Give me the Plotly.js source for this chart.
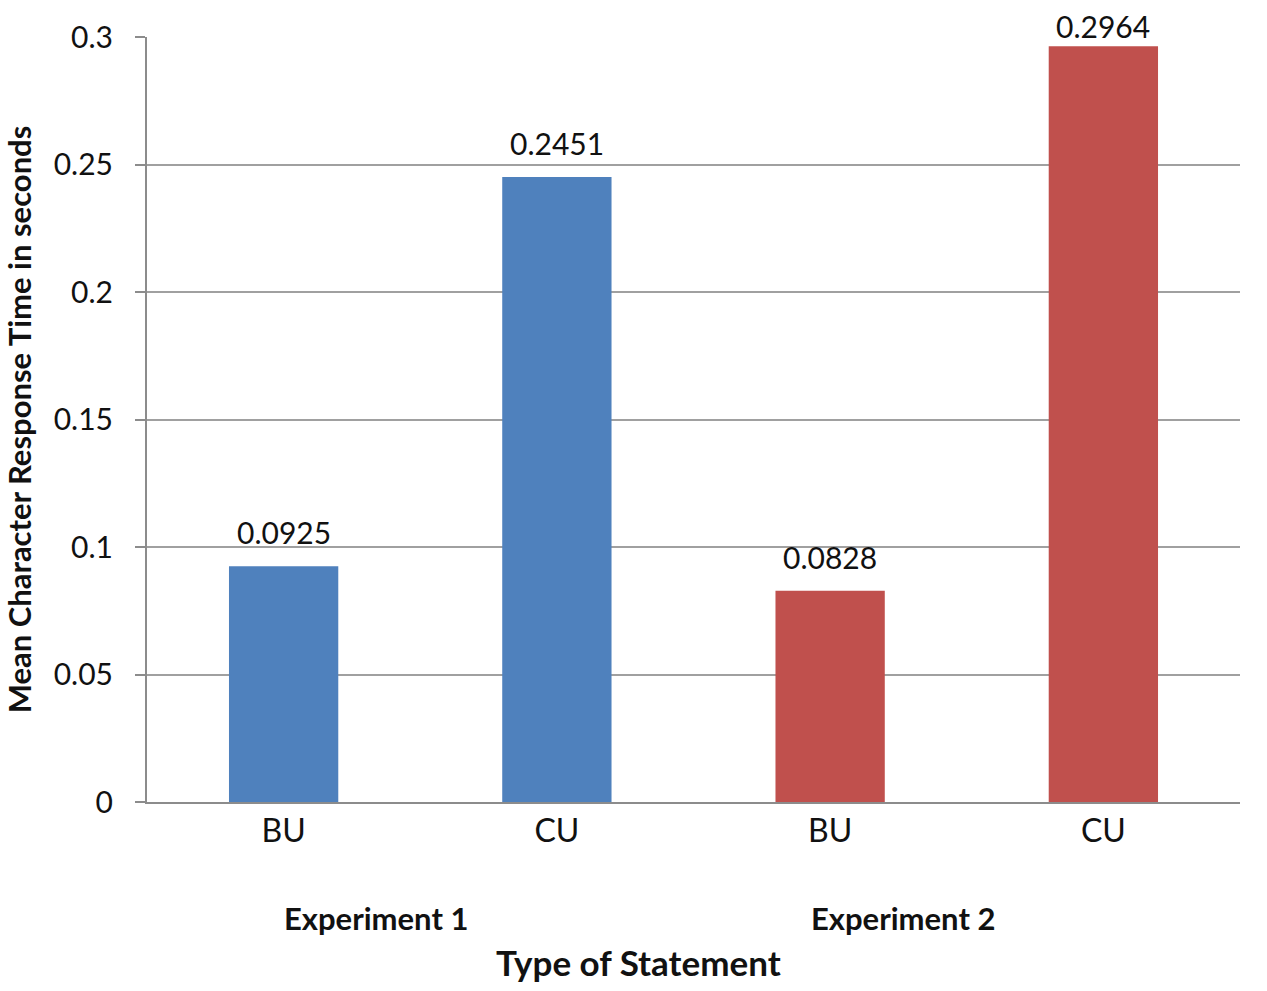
<!DOCTYPE html>
<html>
<head>
<meta charset="utf-8">
<script src="https://cdn.plot.ly/plotly-3.0.1.min.js"></script>
<style>
  html, body { margin: 0; padding: 0; background: #fff; }
  #chart { width: 1267px; height: 991px; }
</style>
</head>
<body>
<div id="chart"></div>
<script>
// statement types, one per bar
var statementTypes = ['BU', 'CU', 'BU', 'CU'];
var experiments = ['Experiment 1', 'Experiment 1', 'Experiment 2', 'Experiment 2'];
var meanResponse = [0.0925, 0.2451, 0.0828, 0.2964];
var valueLabels = ['0.0925', '0.2451', '0.0828', '0.2964'];
var yTicks = [0, 0.05, 0.1, 0.15, 0.2, 0.25, 0.3];
var yTickText = ['0', '0.05', '0.1', '0.15', '0.2', '0.25', '0.3'];

var expColors = { 'Experiment 1': '#4f81bd', 'Experiment 2': '#c0504d' };
var barIdx = statementTypes.map(function(_, i) { return i; });

var font = 'Lato, "Open Sans", sans-serif';

var trace = {
  type: 'bar',
  x: barIdx,
  y: meanResponse,
  width: 0.4,
  marker: { color: experiments.map(function(e) { return expColors[e]; }) },
  hoverinfo: 'y'
};

var annos = barIdx.map(function(i) {
  return {
    x: i, y: meanResponse[i], xref: 'x', yref: 'y',
    text: valueLabels[i], showarrow: false,
    yanchor: 'middle', yshift: meanResponse[i] > 0.28 ? 20 : 34,
    font: { family: font, size: 30, color: '#111' }
  };
});

annos.push(
  { x: 0.2095, y: -0.152, xref: 'paper', yref: 'paper', text: '<b>Experiment 1</b>',
    xanchor: 'center', yanchor: 'middle',
    showarrow: false, font: { family: font, size: 31, color: '#111' } },
  { x: 0.692, y: -0.152, xref: 'paper', yref: 'paper', text: '<b>Experiment 2</b>',
    xanchor: 'center', yanchor: 'middle',
    showarrow: false, font: { family: font, size: 31, color: '#111' } },
  { x: 0.450, y: -0.209, xref: 'paper', yref: 'paper', text: '<b>Type of Statement</b>',
    xanchor: 'center', yanchor: 'middle',
    showarrow: false, font: { family: font, size: 35, color: '#111' } }
);

var layout = {
  width: 1267,
  height: 991,
  margin: { l: 147, r: 27, t: 37, b: 189 },
  paper_bgcolor: '#fff',
  plot_bgcolor: '#fff',
  showlegend: false,
  font: { family: font, size: 30, color: '#111' },
  xaxis: {
    range: [-0.5, 3.5],
    tickvals: barIdx,
    ticktext: statementTypes,
    showgrid: false,
    zeroline: false,
    showline: true,
    linecolor: '#8c8c8c',
    linewidth: 2,
    ticks: '',
    ticklabelstandoff: 0,
    tickfont: { family: font, size: 32, color: '#111' }
  },
  yaxis: {
    range: [0, 0.3],
    tickvals: yTicks,
    ticktext: yTickText,
    showgrid: true,
    gridcolor: '#a0a0a0',
    gridwidth: 2,
    zeroline: false,
    showline: true,
    linecolor: '#8c8c8c',
    linewidth: 2,
    ticks: 'outside',
    ticklen: 10,
    tickwidth: 2,
    tickcolor: '#8c8c8c',
    ticklabelstandoff: 16,
    tickfont: { family: font, size: 30, color: '#111' },
    title: {
      text: '<b>Mean Character Response Time in seconds</b>',
      font: { family: font, size: 31, color: '#111' },
      standoff: 14
    }
  },
  annotations: annos
};

Plotly.newPlot('chart', [trace], layout, { displayModeBar: false, staticPlot: true });
</script>
</body>
</html>
